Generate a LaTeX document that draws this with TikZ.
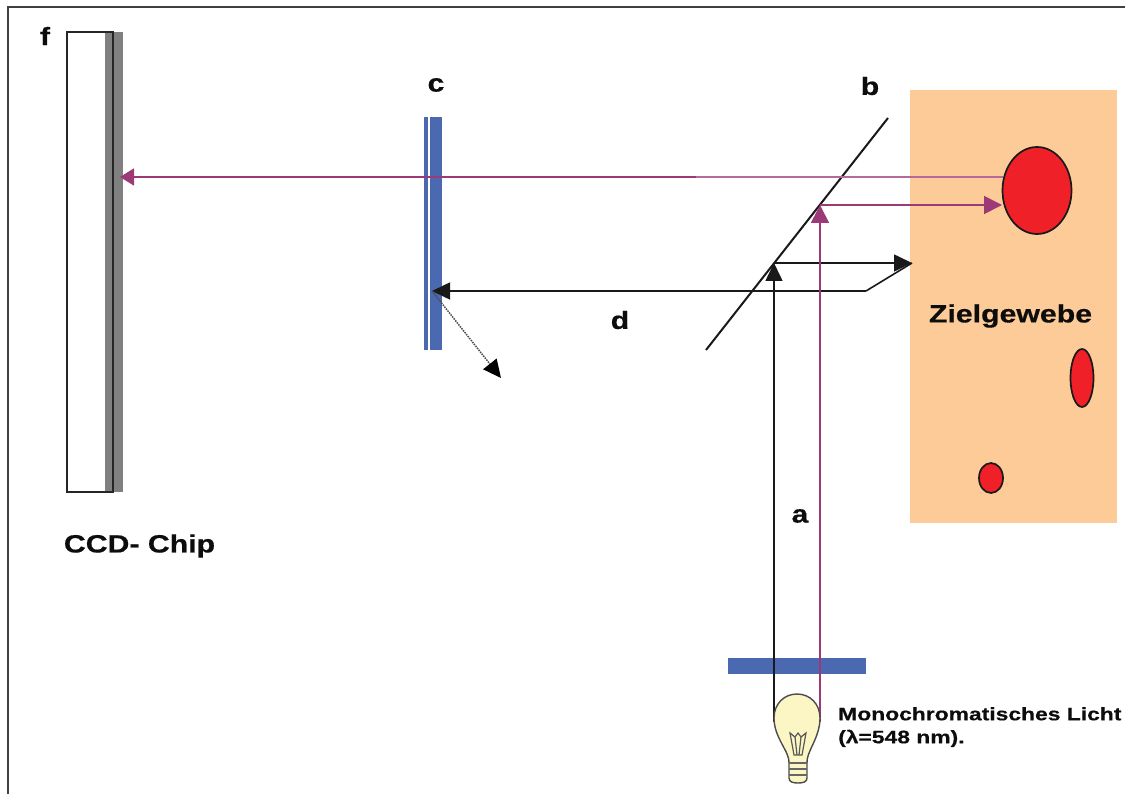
\documentclass[tikz,border=0pt]{standalone}
\usepackage{fontspec}
\setmainfont{Liberation Sans}
\usetikzlibrary{arrows.meta,shapes.geometric}
\definecolor{ray}{HTML}{9C3A78}
\definecolor{rayl}{HTML}{B56A9A}
\definecolor{filt}{HTML}{4A69B0}
\definecolor{tissue}{HTML}{FDCB97}
\definecolor{spot}{HTML}{EF2027}
\definecolor{bulb}{HTML}{FBF6C4}
\newfontfamily\labfont[FakeBold=0.5,FakeStretch=1.21]{Liberation Sans Bold}
\newfontfamily\lampfont[FakeBold=0.5,FakeStretch=1.27]{Liberation Sans Bold}
\tikzset{
  lab/.style={font=\labfont\fontsize{25}{28}\selectfont,inner sep=0pt,text=black!95},
  lamplab/.style={font=\lampfont\fontsize{18}{23}\selectfont,inner sep=0pt,align=left,anchor=north west,text=black!95},
  spotshape/.style={draw=black!90,line width=1.7pt,fill=spot,shape=ellipse},
  blackray/.style={black!90,line width=1.6pt},
  pinkray/.style={ray,line width=1.7pt},
  blackhead/.style={-{Triangle[length=18pt,width=17pt]}},
  pinkhead/.style={-{Triangle[length=18pt,width=18pt]}}
}
\begin{document}
\begin{tikzpicture}[x=1pt,y=-1pt,inner sep=0pt]
\useasboundingbox (0,0) rectangle (1125,794);
% frame
\draw[black!75,line width=1.3pt] (8,794) -- (8,7) -- (1125,7);
% tissue
\fill[tissue] (910,90) rectangle (1117,523);
\node[spotshape,minimum width=69pt,minimum height=87pt] (s1) at (1037,190.5) {};
\node[spotshape,minimum width=23pt,minimum height=58pt] (s2) at (1082,378) {};
\node[spotshape,minimum width=24pt,minimum height=30pt] (s3) at (991,478) {};
% CCD
\fill[black!50] (105,32) rectangle (123,492);
\draw[black!85,line width=1.2pt] (113,492) -- (67,492) -- (67,32) -- (113,32) -- cycle;
\node[lab] at (45,36) {f};
\node[lab] (ccd) at (139.5,546) {CCD- Chip};
% filter c
\fill[filt] (424.3,117) rectangle (427.7,350);
\fill[filt] (430,117) rectangle (442,350);
\node[lab] at (436,85) {c};
% mirror
\coordinate (m1) at (706,350);
\coordinate (m2) at (888,118);
\draw[black!90,line width=2pt] (m1) -- (m2);
\node[lab] at (870,86) {b};
\node[lab] at (620,320) {d};
\node[lab] at (800,516) {a};
\node[lab] at (1010.5,316) {Zielgewebe};
% lower filter
\fill[filt] (728,658) rectangle (866,674);
% rays
\coordinate (bl) at (774,722);
\coordinate (pl) at (820,722);
\coordinate (hit1) at (774,263);
\coordinate (hit2) at (820,205);
\coordinate (tip1) at (912,263);
\coordinate (bend) at (866,291);
\coordinate (filtHit) at (432,291);
\coordinate (scat) at (501,378);
\coordinate (ccdHit) at (120,177);
\coordinate (spotIn) at (1002,205);
\coordinate (spotOut) at (1003,177);
\coordinate (mid) at (696,177);
\draw[blackray,blackhead] (bl) -- (hit1);
\draw[blackray,blackhead] (hit1) -- (tip1);
\draw[blackray] (tip1) -- (bend);
\draw[blackray,blackhead] (bend) -- (filtHit);
\draw[black!70,line width=1.5pt,dash pattern=on 1.5pt off 1pt,-{Triangle[length=18pt,width=17pt,color=black]}] (filtHit) -- (scat);
\draw[pinkray,pinkhead] (pl) -- (hit2);
\draw[pinkray,pinkhead] (hit2) -- (spotIn);
\draw[rayl,line width=1.7pt] (spotOut) -- (mid);
\draw[pinkray,-{Triangle[length=14pt,width=17pt]}] (mid) -- (ccdHit);
% bulb
\draw[black!70,line width=1.4pt,fill=bulb]
  (789,763) -- (789,778) .. controls (789,782) and (793,783) .. (798,783)
  .. controls (803,783) and (807,782) .. (807,778) -- (807,763)
  .. controls (806,752) and (820,738) .. (820,718)
  .. controls (820,704) and (810,694) .. (797,694)
  .. controls (784,694) and (774,704) .. (774,718)
  .. controls (774,738) and (790,752) .. (789,763) -- cycle;
\draw[black!60,line width=1.2pt] (789,763) -- (807,763) (789,769) -- (807,769) (789,775) -- (807,775);
\draw[black!65,line width=1.2pt] (794,755) -- (790,733) -- (795,737) -- (798,733) -- (801,737) -- (806,733) -- (802,755) -- cycle;
\draw[black!65,line width=1.2pt] (795,737) -- (797,755) (801,737) -- (799,755);
\node[lamplab] (lamp) at (838,707) {Monochromatisches Licht\\(λ=548 nm).};
\end{tikzpicture}
\end{document}
